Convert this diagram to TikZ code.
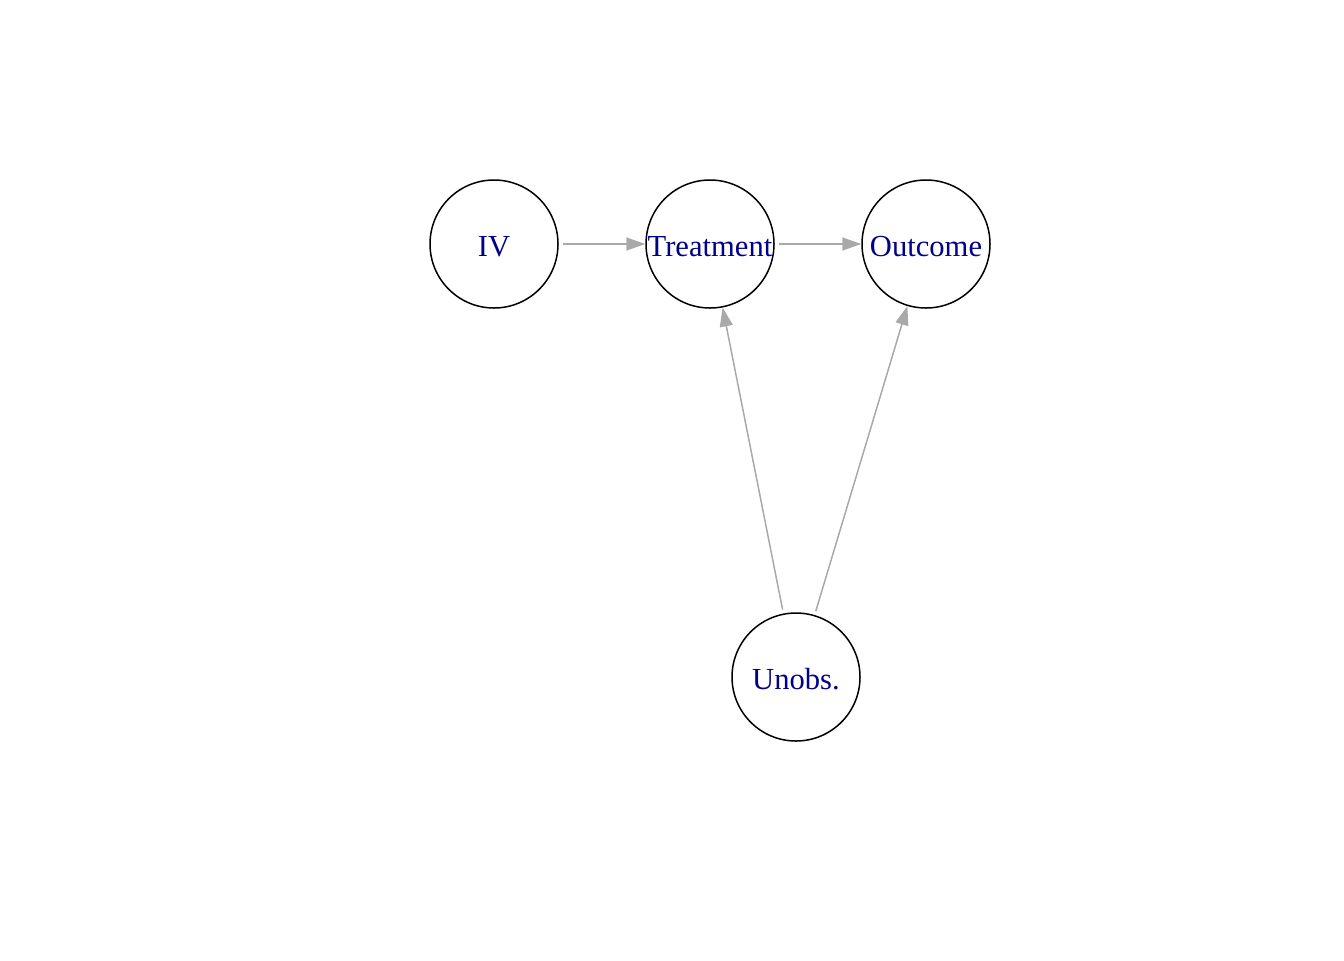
\documentclass[tikz,border=0pt]{standalone}
\usepackage{fontspec}
\setmainfont{Liberation Serif}
\usetikzlibrary{arrows.meta}
\definecolor{labelblue}{RGB}{0,0,139}
\definecolor{edgegray}{RGB}{169,169,169}
\begin{document}
\begin{tikzpicture}[x=0.5pt,y=-0.5pt,
  vertex/.style={circle,draw=black,line width=0.75pt,minimum size=64pt,inner sep=0pt,
    text=labelblue,text height=12pt,text depth=0pt,font=\fontsize{15.3pt}{18pt}\selectfont},
  edge/.style={draw=edgegray,line width=0.75pt,
    -{Triangle[length=9.5pt,width=6.5pt]},shorten <=2pt}]
\useasboundingbox (0,0) rectangle (1344,960);
\node[vertex] (iv) at (494,244) {IV};
\node[vertex] (tr) at (710,244) {Treatment};
\node[vertex] (out) at (926,244) {Outcome};
\node[vertex] (un) at (796,677) {Unobs.};
\draw[edge] (iv) -- (tr);
\draw[edge] (tr) -- (out);
\draw[edge] (un) -- (tr);
\draw[edge] (un) -- (out);
\end{tikzpicture}
\end{document}
